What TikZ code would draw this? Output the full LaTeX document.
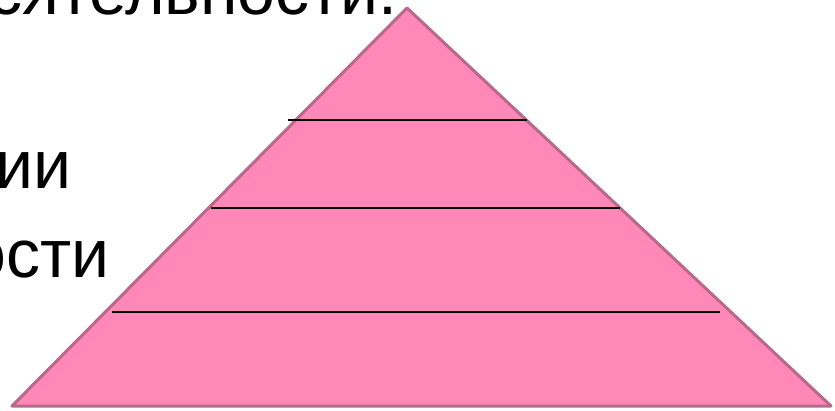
\documentclass[tikz,border=0pt]{standalone}
\usepackage{fontspec}
\setmainfont{Liberation Sans}
\usepackage{tikz}
\usetikzlibrary{positioning}
\definecolor{pyramidpink}{RGB}{255, 136, 184}
\definecolor{pyramidedge}{RGB}{185, 104, 140}
\tikzset{
  pyramid/.style={fill=pyramidpink, draw=pyramidedge, line width=3pt, line join=round},
  levelline/.style={draw=black, line width=2pt},
  bigtext/.style={font=\fontsize{68}{80}\selectfont, inner sep=0pt, anchor=base east},
}

\begin{document}
\begin{tikzpicture}[x=1pt, y=-1pt]
  \useasboundingbox (0,0) rectangle (835,411);
  \clip (0,0) rectangle (835,411);

  % text on the left
  \node[bigtext] (txtone) at (398,15) {сятельности.};
  \node[bigtext] (txttwo) at (72,189) {ии};
  \node[bigtext] (txtthree) at (110,278) {ости};

  % pyramid
  \coordinate (apex) at (407,8);
  \coordinate (baseleft) at (12,406);
  \coordinate (baseright) at (831,406);
  \path[pyramid] (apex) -- (baseright) -- (baseleft) -- cycle;

  % levels
  \coordinate (lvlonea) at (288,120);
  \coordinate (lvloneb) at (527,120);
  \coordinate (lvltwoa) at (211,208);
  \coordinate (lvltwob) at (620,208);
  \coordinate (lvlthreea) at (112,312);
  \coordinate (lvlthreeb) at (720,312);
  \draw[levelline] (lvlonea) -- (lvloneb);
  \draw[levelline] (lvltwoa) -- (lvltwob);
  \draw[levelline] (lvlthreea) -- (lvlthreeb);
\end{tikzpicture}
\end{document}
